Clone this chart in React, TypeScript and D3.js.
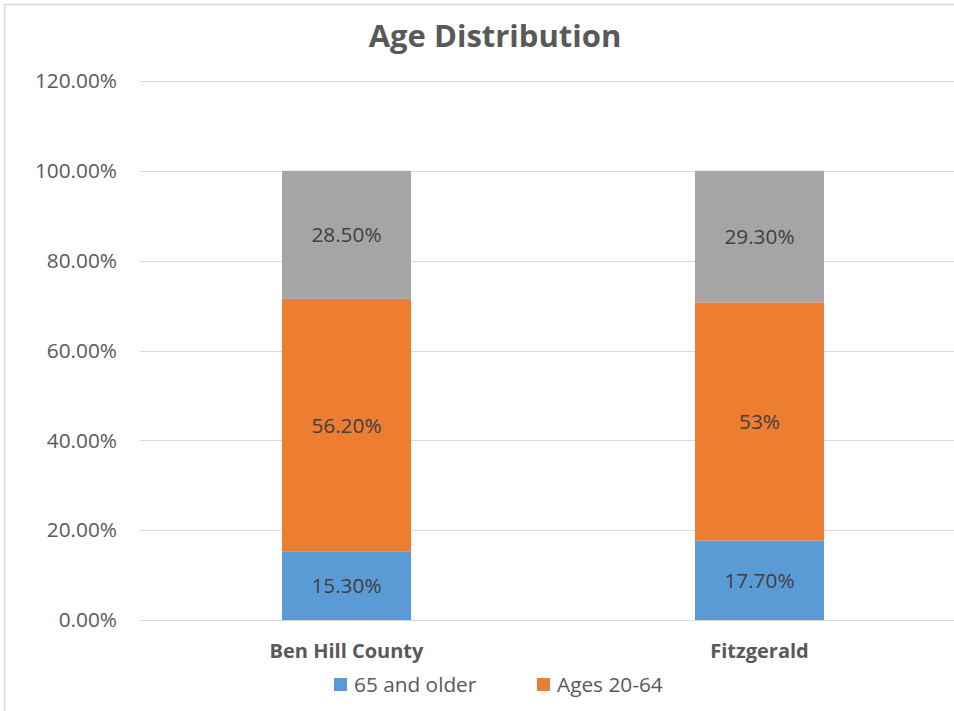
import React from "react";
import * as d3 from "d3";

const categories = ["Ben Hill County", "Fitzgerald"];
const seriesNames = ["65 and older", "Ages 20-64", "Under 20"];
const olderValues = [0.153, 0.177];
const workingValues = [0.562, 0.53];
const youngValues = [0.285, 0.293];
const olderLabels = ["15.30%", "17.70%"];
const workingLabels = ["56.20%", "53%"];
const youngLabels = ["28.50%", "29.30%"];
const yTicks = [0, 0.2, 0.4, 0.6, 0.8, 1.0, 1.2];
const legendSeries = ["65 and older", "Ages 20-64"];

const colors = ["#5B9BD5", "#ED7D31", "#A5A5A5"];
const FONT = "'Open Sans', sans-serif";

export default function App() {
  const W = 954;
  const H = 711;
  const plotLeft = 140;
  const plotRight = 966;
  const y = d3.scaleLinear().domain([0, 1.2]).range([620, 81]);
  const x = d3.scalePoint<string>().domain(categories).range([plotLeft, plotRight]).padding(0.5);
  const barW = x.step() * 0.3125;

  const rows = categories.map((c, i) => ({
    cat: c,
    older: olderValues[i],
    working: workingValues[i],
    young: youngValues[i],
  }));
  const keys = ["older", "working", "young"];
  const labelSets = [olderLabels, workingLabels, youngLabels];
  const stacked = d3.stack<any>().keys(keys)(rows);

  return (
    <svg width={W} height={H} style={{ position: "absolute", left: 0, top: 0, background: "#fff" }}>
      <rect x={4.5} y={4.5} width={985} height={720} fill="#fff" stroke="#D9D9D9" strokeWidth={1.5} />
      <text x={495} y={47} textAnchor="middle" fontFamily={FONT} fontWeight="bold" fontSize={31} fill="#595959">
        Age Distribution
      </text>
      {yTicks.map((t) => (
        <g key={t}>
          <line x1={plotLeft} x2={plotRight} y1={Math.round(y(t)) + 0.5} y2={Math.round(y(t)) + 0.5} stroke="#D9D9D9" strokeWidth={1.2} />
          <text x={117} y={y(t)} dy="0.35em" textAnchor="end" fontFamily={FONT} fontSize={20.8} fill="#595959">
            {d3.format(".2%")(t)}
          </text>
        </g>
      ))}
      {stacked.map((s, si) => (
        <g key={si}>
          {s.map((d, i) => {
            const cx = x(categories[i])!;
            const y0 = y(d[0]);
            const y1 = y(d[1]);
            return (
              <g key={i}>
                <rect x={cx - barW / 2} y={y1} width={barW} height={y0 - y1} fill={colors[si]} />
                <text x={cx} y={(y0 + y1) / 2} dy="0.36em" textAnchor="middle" fontFamily={FONT} fontSize={20.8} fill="#404040">
                  {labelSets[si][i]}
                </text>
              </g>
            );
          })}
        </g>
      ))}
      {categories.map((c) => (
        <text key={c} x={x(c)!} y={651} dy="0.35em" textAnchor="middle" fontFamily={FONT} fontWeight="bold" fontSize={20} fill="#595959">
          {c}
        </text>
      ))}
      {legendSeries.map((name, i) => {
        const lx = [334, 537][i];
        return (
          <g key={name}>
            <rect x={lx} y={678} width={13} height={13} fill={colors[seriesNames.indexOf(name)]} />
            <text x={lx + 20} y={685} dy="0.35em" fontFamily={FONT} fontSize={20.8} fill="#595959">
              {name}
            </text>
          </g>
        );
      })}
    </svg>
  );
}
